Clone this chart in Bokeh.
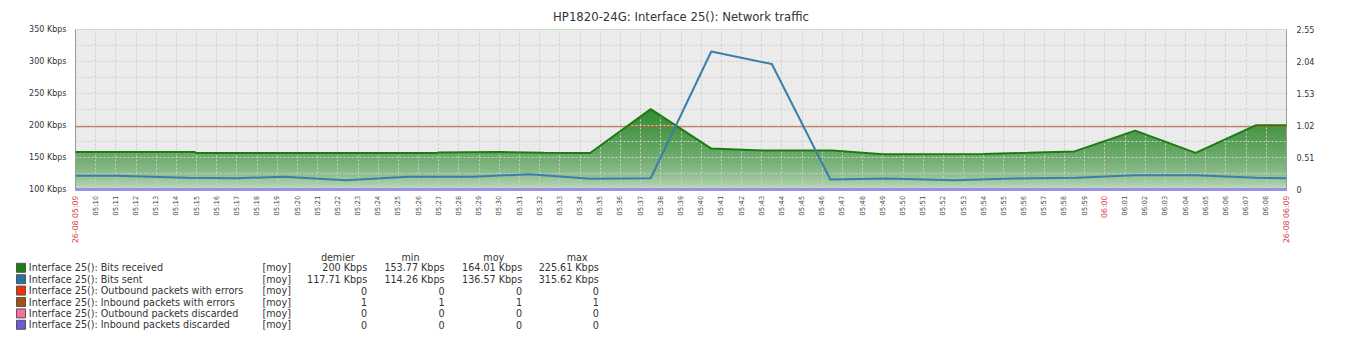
import numpy as np
from math import pi
from bokeh.plotting import figure
from bokeh.models import Range1d, LinearAxis, FixedTicker
from bokeh.embed import file_html
from bokeh.resources import INLINE
from bokeh.core.properties import value

TITLE = "HP1820-24G: Interface 25(): Network traffic"

# time in minutes after 26-08 05:09
recv_t = [0, 5.9, 6.0, 17.9, 18.0, 21.0, 23.2, 25.5, 28.5, 31.5, 34.0, 37.5, 40.0, 45.0, 47.2, 49.5, 52.5, 55.5, 58.5, 60]
recv_kbps = [158.5, 158.5, 157.0, 157.0, 157.8, 158.5, 157.5, 157.0, 225.6, 164.0, 161.0, 161.0, 155.0, 155.5, 157.3, 159.5, 192.0, 157.3, 200.5, 200.5]

sent_t = [0, 2.0, 5.5, 8.0, 10.3, 13.4, 16.5, 19.7, 22.5, 25.5, 28.5, 31.5, 34.5, 37.4, 40.2, 43.5, 46.5, 49.6, 52.5, 55.5, 58.5, 60]
sent_kbps = [121.5, 121.5, 118.5, 117.7, 119.8, 114.3, 119.8, 119.8, 124.0, 116.7, 117.5, 315.6, 296.0, 115.6, 117.2, 114.3, 117.0, 118.2, 122.4, 122.4, 118.2, 117.7]

pkt_t = [0, 60]
out_err = [0, 0]
in_err = [1, 1]
out_disc = [0, 0]
in_disc = [0, 0]

X0, X1 = 0, 60
Y0, Y1 = 100, 350
R0, R1 = 0, 2.55

left_ticks = [100, 150, 200, 250, 300, 350]
left_labels = ["100 Kbps", "150 Kbps", "200 Kbps", "250 Kbps", "300 Kbps", "350 Kbps"]
right_ticks = [0, 0.51, 1.02, 1.53, 2.04, 2.55]
right_labels = ["0", "0.51", "1.02", "1.53", "2.04", "2.55"]
ygrid_ticks = [125, 150, 175, 200, 225, 250, 275, 300, 325]

time_marks = list(range(61))
time_labels = (["26-08 05:09"] + ["05:%02d" % m for m in range(10, 60)] + ["06:00"]
               + ["06:%02d" % m for m in range(1, 9)] + ["26-08 06:09"])
red_labels = ["26-08 05:09", "06:00", "26-08 06:09"]

legend_names = ["Interface 25(): Bits received", "Interface 25(): Bits sent",
                "Interface 25(): Outbound packets with errors", "Interface 25(): Inbound packets with errors",
                "Interface 25(): Outbound packets discarded", "Interface 25(): Inbound packets discarded"]
legend_func = ["[moy]"] * 6
legend_last = ["200 Kbps", "117.71 Kbps", "0", "1", "0", "0"]
legend_min = ["153.77 Kbps", "114.26 Kbps", "0", "1", "0", "0"]
legend_avg = ["164.01 Kbps", "136.57 Kbps", "0", "1", "0", "0"]
legend_max = ["225.61 Kbps", "315.62 Kbps", "0", "1", "0", "0"]
legend_headers = ["demier", "min", "moy", "max"]
colors = ["#1A7C11", "#2774A4", "#F63100", "#A54F10", "#FC6EA3", "#6C59DC"]

FONT = "DejaVu Sans"
BG = "#ebebeb"
TXT = "#333333"

# layout (pixels)
FIG_W = 1345
PAD_L = 8
BORDER_L = 67
BORDER_R = 67
FRAME_TOP = 29
FRAME_BOTTOM = 189
TOP_H = 196
FRAME_W = FIG_W - BORDER_L - BORDER_R

p = figure(width=FIG_W, height=TOP_H, x_range=Range1d(X0, X1), y_range=Range1d(Y0, Y1),
           output_backend="svg", toolbar_location=None,
           min_border_left=BORDER_L, min_border_right=BORDER_R, min_border_top=FRAME_TOP,
           min_border_bottom=TOP_H - FRAME_BOTTOM,
           background_fill_color=BG, border_fill_color="white", outline_line_color=None,
           margin=(0, 0, 0, PAD_L))
p.extra_y_ranges = {"right": Range1d(R0, R1)}

p.title.text = TITLE
p.title.align = "center"
p.title.text_font = FONT
p.title.text_font_size = "11.7px"
p.title.text_font_style = "normal"
p.title.text_color = TXT
p.title.offset = 0
p.title.standoff = 11

p.xaxis.visible = False
ya = p.yaxis[0]
ya.ticker = FixedTicker(ticks=left_ticks)
ya.major_label_overrides = dict(zip(left_ticks, left_labels))
ra = LinearAxis(y_range_name="right", ticker=FixedTicker(ticks=right_ticks))
ra.major_label_overrides = dict(zip(right_ticks, right_labels))
p.add_layout(ra, "right")
for ax, so in ((ya, 9), (ra, 10)):
    ax.major_label_text_font = FONT
    ax.major_label_text_font_size = "8px"
    ax.major_label_text_color = TXT
    ax.major_tick_out = 0
    ax.major_tick_in = 0
    ax.minor_tick_out = 0
    ax.minor_tick_in = 0
    ax.major_label_standoff = so
    ax.axis_line_color = "#9a9a9a"

p.xgrid.ticker = FixedTicker(ticks=time_marks[1:-1])
p.ygrid.ticker = FixedTicker(ticks=ygrid_ticks)
for g in (p.xgrid, p.ygrid):
    g.grid_line_color = "#cdcdcd"
    g.grid_line_dash = "2 2"
    g.grid_line_width = 1
    g.level = "glyph"

# vertical gradient fill for received traffic
H = 250
rows = Y0 + (np.arange(H) + 0.5) * (Y1 - Y0) / H
f = np.clip((rows - Y0) / 125.0, 0, 1) ** 0.5
light = np.array([214, 230, 214])
dark = np.array([54, 140, 52])
rgb = light[None, :] + (dark - light)[None, :] * f[:, None]
img = np.zeros((H, 2), dtype=np.uint32)
view = img.view(dtype=np.uint8).reshape((H, 2, 4))
for c in range(3):
    view[:, :, c] = rgb[:, None, c].astype(np.uint8)
view[:, :, 3] = 255
p.image_rgba(image=[img], x=X0, y=Y0, dw=X1 - X0, dh=Y1 - Y0, level="image")
p.varea(x=recv_t, y1=recv_kbps, y2=Y1, fill_color=BG, level="underlay")

p.line(pkt_t, out_err, y_range_name="right", line_color=colors[2], line_width=2, level="annotation")
p.line(pkt_t, out_disc, y_range_name="right", line_color=colors[4], line_width=2, level="annotation")
p.line(pkt_t, in_disc, y_range_name="right", line_color="#9a90e6", line_width=3, level="annotation")
p.line(pkt_t, in_err, y_range_name="right", line_color="#b8653a", line_width=1, level="annotation")
p.line(recv_t, recv_kbps, line_color=colors[0], line_width=2, level="annotation")
p.line(sent_t, sent_kbps, line_color="#3a7fab", line_width=2, level="annotation")

# lower panel: time labels + legend table (data units = pixels, y counted from panel bottom)
QH = 336 - TOP_H
q = figure(width=FIG_W, height=QH, x_range=Range1d(0, FIG_W), y_range=Range1d(0, QH),
           output_backend="svg", toolbar_location=None, min_border=0,
           x_axis_type=None, y_axis_type=None, outline_line_color=None,
           background_fill_color="white", border_fill_color="white", margin=(0, 0, 0, PAD_L))
q.grid.visible = False
ppm = FRAME_W / (X1 - X0)
q.extra_x_ranges = {"time": Range1d(X0 - BORDER_L / ppm, X1 + BORDER_R / ppm)}

def top(page_y):
    # page pixel row -> y value in the lower panel
    return 336 - page_y

is_red = [t in red_labels for t in time_labels]
for red, size in ((False, "7px"), (True, "7.8px")):
    xs = [m for m, r in zip(time_marks, is_red) if r == red]
    ts = [t for t, r in zip(time_labels, is_red) if r == red]
    q.text(x=xs, y=[top(FRAME_BOTTOM + 6)] * len(xs), text=ts, x_range_name="time", angle=pi / 2,
           text_align="right", text_baseline="middle", text_font=value(FONT),
           text_font_size=value(size), text_color="#e03c3c" if red else "#454545")

row_y = [top(267.3 + 11.4 * i) for i in range(len(legend_names))]
q.rect(x=[12.5] * 6, y=row_y, width=9, height=9, fill_color=colors, line_color="#555555", line_width=1)
tk = dict(text_font=value(FONT), text_font_size=value("9.6px"), text_color=TXT, text_baseline="middle")
q.text(x=[20.3] * 6, y=row_y, text=legend_names, text_align="left", **tk)
q.text(x=[254] * 6, y=row_y, text=legend_func, text_align="left", **tk)
for xr, col in zip([358.7, 436, 513.7, 590.3], [legend_last, legend_min, legend_avg, legend_max]):
    q.text(x=[xr] * 6, y=row_y, text=col, text_align="right", **tk)
q.text(x=[329.3, 402, 485.3, 568.7], y=[top(257)] * 4, text=legend_headers, text_align="center", **tk)

html = file_html([p, q], INLINE)
html = html.replace("<body>", '<body style="margin:0;background:#eef1f4;">', 1)
open("out.html", "w").write(html)
